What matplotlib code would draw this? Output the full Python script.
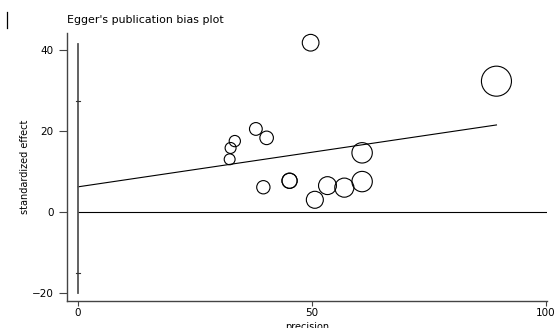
import numpy as np
import matplotlib
matplotlib.use("Agg")
import matplotlib.pyplot as plt
from matplotlib.lines import Line2D

plt.rcParams["font.family"] = ["DejaVu Sans"]

# studies: precision (1/se) and standardized effect (effect/se)
precision = [49.7, 89.4, 38.0, 40.3, 33.5, 32.6, 32.4, 60.7, 39.6,
             45.2, 45.2, 50.6, 53.3, 56.9, 60.7]
std_effect = [41.8, 32.3, 20.5, 18.3, 17.5, 15.8, 13.0, 14.6, 6.1,
              7.7, 7.7, 3.0, 6.5, 6.0, 7.5]

# Egger regression line (intercept at precision 0) and intercept CI
egger_intercept = 6.2
egger_slope = 0.171
intercept_ci = [-15.0, 27.5]
yaxis_line = [-20, 41.5]

xticks = [0, 50, 100]
yticks = [-20, 0, 20, 40]

fig = plt.figure(figsize=(5.58, 3.28), dpi=100)
ax = fig.add_axes([67 / 558, 1 - 301 / 328, 480 / 558, 268 / 328])

prec = np.array(precision)
ax.scatter(prec, std_effect, s=0.0585 * prec ** 2, facecolors="none",
           edgecolors="black", linewidths=0.8, zorder=3)

# regression line across the range of precision
xl = np.array([0, prec.max()])
ax.plot(xl, egger_intercept + egger_slope * xl, color="black", lw=0.8)

# zero line
ax.plot([0, 100], [0, 0], color="black", lw=0.8)

# vertical line at precision 0 with the intercept CI marks
ax.plot([0, 0], yaxis_line, color="#555555", lw=1.3)
for v in intercept_ci:
    ax.plot([-0.5, 0.5], [v, v], color="#333333", lw=0.8)

ax.set_xlim(-2.35, 100.2)
ax.set_ylim(-22.0, 44.2)
ax.set_xticks(xticks)
ax.set_yticks(yticks)

for side in ("top", "right"):
    ax.spines[side].set_visible(False)
for side in ("left", "bottom"):
    ax.spines[side].set_color("#444444")
    ax.spines[side].set_linewidth(1.0)

ax.tick_params(axis="y", length=5.8, width=0.8, color="#444444",
               labelsize=7.5, pad=4)
ax.tick_params(axis="x", length=3.6, width=0.8, color="#444444",
               labelsize=7.5, pad=1.5)

ax.set_ylabel("standardized effect", fontsize=7.0, labelpad=1)
ax.set_xlabel("precision", fontsize=7.0, labelpad=2.5)

fig.text(67 / 558, 1 - 20 / 328, "Egger's publication bias plot",
         fontsize=7.9, ha="left", va="center")

# small mark at top-left corner
fig.add_artist(Line2D([7 / 558, 7 / 558], [1 - 12 / 328, 1 - 28 / 328],
                      color="black", lw=0.9))

fig.savefig("out.png", dpi=100, facecolor="white")
